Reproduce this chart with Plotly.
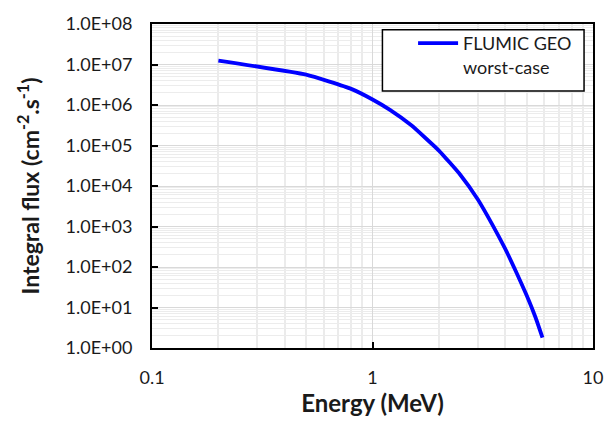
import plotly.graph_objects as go

# Integral flux spectrum, FLUMIC GEO worst-case
energy_mev = [0.2, 0.5, 0.8, 1.0, 1.2, 1.5, 2.0, 2.5, 3.0, 3.5, 4.0, 4.5, 5.0, 5.5, 5.9]
integral_flux = [1.25e7, 5.6e6, 2.5e6, 1.37e6, 7.6e5, 3.15e5, 7.5e4, 1.9e4,
                 4.7e3, 1.1e3, 2.8e2, 72.0, 20.0, 5.5, 1.8]
series_name = "FLUMIC GEO<br>worst-case"

# Axis ticks
y_tick_vals = [1e0, 1e1, 1e2, 1e3, 1e4, 1e5, 1e6, 1e7, 1e8]
y_tick_text = ["1.0E+00", "1.0E+01", "1.0E+02", "1.0E+03", "1.0E+04",
               "1.0E+05", "1.0E+06", "1.0E+07", "1.0E+08"]
x_tick_vals = [0.1, 1, 10]
x_tick_text = ["0.1", "1", "10"]

# Minor gridlines at 2..9 within each decade
x_minor = [m * 10.0 ** d for d in (-1, 0) for m in range(2, 10)]
y_minor = [m * 10.0 ** d for d in range(0, 8) for m in range(2, 10)]

FONT = "Lato, 'Open Sans', sans-serif"
INK = "#1a1a1a"

fig = go.Figure()
fig.add_trace(go.Scatter(
    x=energy_mev, y=integral_flux, mode="lines", name=series_name,
    line=dict(color="#0000ff", width=3.8, shape="spline", smoothing=0.4),
    showlegend=True,
))

axis_common = dict(
    showline=True, linecolor="black", linewidth=2, mirror=True,
    ticks="inside", ticklen=6, tickwidth=2, tickcolor="black",
    gridcolor="#d9d9d9", gridwidth=1, zeroline=False,
    tickfont=dict(family=FONT, size=18, color=INK),
)

fig.update_xaxes(
    type="log", range=[-1, 1], tickmode="array",
    tickvals=x_tick_vals, ticktext=x_tick_text,
    ticklabelstandoff=12,
    minor=dict(tickmode="array", tickvals=x_minor, showgrid=True,
               gridcolor="#ebebeb", gridwidth=2, ticks=""),
    title=dict(text="Energy (MeV)", standoff=5,
               font=dict(family=FONT, size=24, color=INK, weight="bold")),
    **axis_common,
)
fig.update_yaxes(
    type="log", range=[0, 8], tickmode="array",
    tickvals=y_tick_vals, ticktext=y_tick_text,
    ticklabelstandoff=14,
    minor=dict(tickmode="array", tickvals=y_minor, showgrid=True,
               gridcolor="#ececec", gridwidth=1, ticks=""),
    title=dict(text="Integral flux (cm<sup>-2</sup>.s<sup>-1</sup>)", standoff=20,
               font=dict(family=FONT, size=23, color=INK, weight="bold")),
    **axis_common,
)

# Legend frame
fig.add_shape(
    type="rect", xref="paper", yref="paper",
    x0=0.5225, x1=0.9797, y0=0.7934, y1=0.982,
    line=dict(color="black", width=1.5), fillcolor="white", layer="above",
)

fig.update_layout(
    width=615, height=421,
    margin=dict(l=152, r=19, t=18, b=69),
    paper_bgcolor="white", plot_bgcolor="white",
    font=dict(family=FONT, color=INK),
    legend=dict(
        x=0.592, y=0.997, xanchor="left", yanchor="top",
        bgcolor="rgba(0,0,0,0)", borderwidth=0,
        font=dict(family=FONT, size=18, color=INK),
        valign="top", itemwidth=40,
    ),
)

fig.write_html("out.html")
